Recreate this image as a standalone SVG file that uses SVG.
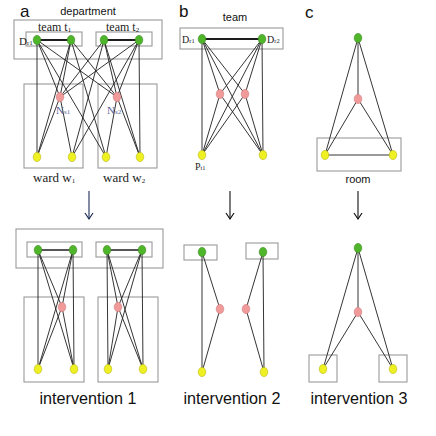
<svg xmlns="http://www.w3.org/2000/svg" width="436" height="436" viewBox="0 0 436 436">
<defs>
<marker id="ah" markerUnits="userSpaceOnUse" markerWidth="10" markerHeight="10" refX="8" refY="5" orient="auto" viewBox="0 0 10 10">
<path d="M2,1 L8,5 L2,9" fill="none" stroke="#111" stroke-width="1.2"/>
</marker>
<marker id="ahb" markerUnits="userSpaceOnUse" markerWidth="10" markerHeight="10" refX="8" refY="5" orient="auto" viewBox="0 0 10 10">
<path d="M2,1 L8,5 L2,9" fill="none" stroke="#1c2c55" stroke-width="1.2"/>
</marker>
<style>
.bx{fill:none;stroke:#9a9a9a;stroke-width:1.1}
.e{stroke:#1e1e1e;stroke-width:0.9;fill:none}
.t{stroke:#1e1e1e;stroke-width:1.8;fill:none}
.g{fill:#4fb52a;stroke:#3a8a1e;stroke-width:0.6}
.p{fill:#f09a9a;stroke:#d07a7a;stroke-width:0.6}
.y{fill:#eef021;stroke:#b8b818;stroke-width:0.6}
.sans{font-family:"Liberation Sans",Arial,sans-serif;fill:#111}
.ser{font-family:"Liberation Serif","Times New Roman",serif;fill:#222}
.ns{font-family:"Liberation Serif","Times New Roman",serif;fill:#56639a}
.arr{stroke:#111;stroke-width:1.1;fill:none}
</style>
</defs>
<rect width="436" height="436" fill="#fff"/>

<!-- panel labels -->
<text class="sans" x="20" y="17" font-size="17">a</text>
<text class="sans" x="179" y="17" font-size="17">b</text>
<text class="sans" x="305" y="18" font-size="17">c</text>

<!-- boxes -->
<g id="boxes">
<rect class="bx" x="14" y="20" width="148" height="39"/>
<rect class="bx" x="26" y="32" width="56" height="14"/>
<rect class="bx" x="96" y="32" width="56" height="14"/>
<rect class="bx" x="24" y="84" width="59" height="84"/>
<rect class="bx" x="98" y="84" width="59" height="84"/>
<rect class="bx" x="180" y="28" width="103" height="21"/>
<rect class="bx" x="317" y="138" width="84" height="33"/>
<rect class="bx" x="16" y="229" width="147" height="39"/>
<rect class="bx" x="27" y="242" width="55" height="15"/>
<rect class="bx" x="96" y="242" width="56" height="15"/>
<rect class="bx" x="24" y="297" width="60" height="85"/>
<rect class="bx" x="98" y="297" width="60" height="85"/>
<rect class="bx" x="184" y="245" width="33" height="15"/>
<rect class="bx" x="246" y="243" width="32" height="16"/>
<rect class="bx" x="309" y="355" width="28" height="27"/>
<rect class="bx" x="379" y="355" width="28" height="27"/>
</g>

<g id="connectors">
<!-- panel a -->
<line class="t" x1="37" y1="40" x2="71" y2="40"/>
<line class="t" x1="104" y1="40" x2="139" y2="40"/>
<path class="e" d="M37,40 L37,157 M37,40 L60,97 M37,40 L117,97 M37,40 L106,157
M71,40 L60,97 M71,40 L117,97 M71,40 L37,157 M71,40 L106,157
M104,40 L60,97 M104,40 L117,97 M104,40 L72,157 M104,40 L140,157
M139,40 L60,97 M139,40 L117,97 M139,40 L72,157 M139,40 L140,157
M60,97 L37,157 M60,97 L72,157 M117,97 L106,157 M117,97 L140,157"/>
<!-- panel b -->
<line class="t" x1="202" y1="39" x2="262" y2="39"/>
<path class="e" d="M202,39 L202,155 M202,39 L220,94 M202,39 L245,94 M202,39 L263,155
M262,39 L263,155 M262,39 L220,94 M262,39 L245,94 M262,39 L202,155
M220,94 L202,155 M220,94 L263,155 M245,94 L202,155 M245,94 L263,155"/>
<!-- panel c -->
<path class="e" d="M358,38 L358,99 M358,38 L325,155 M358,38 L393,155 M358,99 L325,155 M358,99 L393,155 M325,155 L393,155"/>
<!-- intervention 1 -->
<line class="e" x1="38" y1="250" x2="73" y2="250" style="stroke-width:1.3"/>
<line class="e" x1="107" y1="250" x2="142" y2="250" style="stroke-width:1.3"/>
<path class="e" d="M38,250 L38,369 M38,250 L62,307 M38,250 L74,369 M73,250 L74,369 M73,250 L62,307 M73,250 L38,369 M62,307 L38,369 M62,307 L74,369
M107,250 L108,369 M107,250 L118,307 M107,250 L143,369 M142,250 L143,369 M142,250 L118,307 M142,250 L108,369 M118,307 L108,369 M118,307 L143,369"/>
<!-- intervention 2 -->
<path class="e" d="M202,252 L202,372 M202,252 L220,309 M220,309 L202,372 M263,252 L264,372 M263,252 L246,309 M246,309 L264,372"/>
<!-- intervention 3 -->
<path class="e" d="M358,248 L358,312 M358,248 L323,369 M358,248 L393,369 M358,312 L323,369 M358,312 L393,369"/>
<!-- arrows -->
<line x1="89" y1="191" x2="89" y2="219" style="stroke:#1c2c55;stroke-width:1.1" marker-end="url(#ahb)"/>
<line class="arr" x1="230" y1="191" x2="230" y2="219" marker-end="url(#ah)"/>
<line class="arr" x1="358" y1="191" x2="358" y2="219" marker-end="url(#ah)"/>
</g>

<!-- nodes panel a -->
<g id="a-G1"><ellipse class="g" cx="37" cy="40" rx="3.8" ry="4.6"/></g>
<g id="a-G2"><ellipse class="g" cx="71" cy="40" rx="3.8" ry="4.6"/></g>
<g id="a-G3"><ellipse class="g" cx="104" cy="40" rx="3.8" ry="4.6"/></g>
<g id="a-G4"><ellipse class="g" cx="139" cy="40" rx="3.8" ry="4.6"/></g>
<g id="a-P1"><ellipse class="p" cx="60" cy="97" rx="3.8" ry="4.6"/></g>
<g id="a-P2"><ellipse class="p" cx="117" cy="97" rx="3.8" ry="4.6"/></g>
<g id="a-Y1"><ellipse class="y" cx="37" cy="157" rx="3.8" ry="4.6"/></g>
<g id="a-Y2"><ellipse class="y" cx="72" cy="157" rx="3.8" ry="4.6"/></g>
<g id="a-Y3"><ellipse class="y" cx="106" cy="157" rx="3.8" ry="4.6"/></g>
<g id="a-Y4"><ellipse class="y" cx="140" cy="157" rx="3.8" ry="4.6"/></g>
<!-- nodes panel b -->
<g id="b-G1"><ellipse class="g" cx="202" cy="39" rx="3.8" ry="4.6"/></g>
<g id="b-G2"><ellipse class="g" cx="262" cy="39" rx="3.8" ry="4.6"/></g>
<g id="b-P1"><ellipse class="p" cx="220" cy="94" rx="3.8" ry="4.6"/></g>
<g id="b-P2"><ellipse class="p" cx="245" cy="94" rx="3.8" ry="4.6"/></g>
<g id="b-Y1"><ellipse class="y" cx="202" cy="155" rx="3.8" ry="4.6"/></g>
<g id="b-Y2"><ellipse class="y" cx="263" cy="155" rx="3.8" ry="4.6"/></g>
<!-- nodes panel c -->
<g id="c-G"><ellipse class="g" cx="358" cy="38" rx="3.8" ry="4.6"/></g>
<g id="c-P"><ellipse class="p" cx="358" cy="99" rx="3.8" ry="4.6"/></g>
<g id="c-Y1"><ellipse class="y" cx="325" cy="155" rx="3.8" ry="4.6"/></g>
<g id="c-Y2"><ellipse class="y" cx="393" cy="155" rx="3.8" ry="4.6"/></g>
<!-- intervention 1 nodes -->
<g id="i1-G1"><ellipse class="g" cx="38" cy="250" rx="3.8" ry="4.6"/></g>
<g id="i1-G2"><ellipse class="g" cx="73" cy="250" rx="3.8" ry="4.6"/></g>
<g id="i1-G3"><ellipse class="g" cx="107" cy="250" rx="3.8" ry="4.6"/></g>
<g id="i1-G4"><ellipse class="g" cx="142" cy="250" rx="3.8" ry="4.6"/></g>
<g id="i1-P1"><ellipse class="p" cx="62" cy="307" rx="3.8" ry="4.6"/></g>
<g id="i1-P2"><ellipse class="p" cx="118" cy="307" rx="3.8" ry="4.6"/></g>
<g id="i1-Y1"><ellipse class="y" cx="38" cy="369" rx="3.8" ry="4.6"/></g>
<g id="i1-Y2"><ellipse class="y" cx="74" cy="369" rx="3.8" ry="4.6"/></g>
<g id="i1-Y3"><ellipse class="y" cx="108" cy="369" rx="3.8" ry="4.6"/></g>
<g id="i1-Y4"><ellipse class="y" cx="143" cy="369" rx="3.8" ry="4.6"/></g>
<!-- intervention 2 nodes -->
<g id="i2-G1"><ellipse class="g" cx="202" cy="252" rx="3.8" ry="4.6"/></g>
<g id="i2-G2"><ellipse class="g" cx="263" cy="252" rx="3.8" ry="4.6"/></g>
<g id="i2-P1"><ellipse class="p" cx="220" cy="309" rx="3.8" ry="4.6"/></g>
<g id="i2-P2"><ellipse class="p" cx="246" cy="309" rx="3.8" ry="4.6"/></g>
<g id="i2-Y1"><ellipse class="y" cx="202" cy="372" rx="3.8" ry="4.6"/></g>
<g id="i2-Y2"><ellipse class="y" cx="264" cy="372" rx="3.8" ry="4.6"/></g>
<!-- intervention 3 nodes -->
<g id="i3-G"><ellipse class="g" cx="358" cy="248" rx="3.8" ry="4.6"/></g>
<g id="i3-P"><ellipse class="p" cx="358" cy="312" rx="3.8" ry="4.6"/></g>
<g id="i3-Y1"><ellipse class="y" cx="323" cy="369" rx="3.8" ry="4.6"/></g>
<g id="i3-Y2"><ellipse class="y" cx="393" cy="369" rx="3.8" ry="4.6"/></g>

<!-- labels -->
<g id="labels">
<text class="sans" x="88" y="15" font-size="11" text-anchor="middle">department</text>
<text class="ser" x="38" y="31" font-size="12">team t<tspan font-size="7" dy="1">1</tspan></text>
<text class="ser" x="106" y="31" font-size="12">team t<tspan font-size="7" dy="1">2</tspan></text>
<text class="ser" x="19" y="45" font-size="11">D<tspan font-size="7">r1</tspan></text>
<text class="ns" x="56" y="114" font-size="11">N<tspan font-size="7">s1</tspan></text>
<text class="ns" x="107" y="114" font-size="11">N<tspan font-size="7">s2</tspan></text>
<text class="ser" x="33" y="182" font-size="13">ward w<tspan font-size="7" dy="1">1</tspan></text>
<text class="ser" x="103" y="182" font-size="13">ward w<tspan font-size="7" dy="1">2</tspan></text>
<text class="sans" x="235" y="21" font-size="11" text-anchor="middle">team</text>
<text class="ser" x="182" y="43" font-size="10">D<tspan font-size="6.5">r1</tspan></text>
<text class="ser" x="267" y="43" font-size="10">D<tspan font-size="6.5">r2</tspan></text>
<text class="ser" x="195" y="170" font-size="10">P<tspan font-size="6.5">t1</tspan></text>
<text class="sans" x="358" y="183" font-size="11" text-anchor="middle">room</text>
<text class="sans" x="88" y="404" font-size="17" text-anchor="middle" textLength="97" lengthAdjust="spacingAndGlyphs">intervention 1</text>
<text class="sans" x="232" y="404" font-size="17" text-anchor="middle" textLength="97" lengthAdjust="spacingAndGlyphs">intervention 2</text>
<text class="sans" x="359" y="404" font-size="17" text-anchor="middle" textLength="97" lengthAdjust="spacingAndGlyphs">intervention 3</text>
</g>
</svg>
